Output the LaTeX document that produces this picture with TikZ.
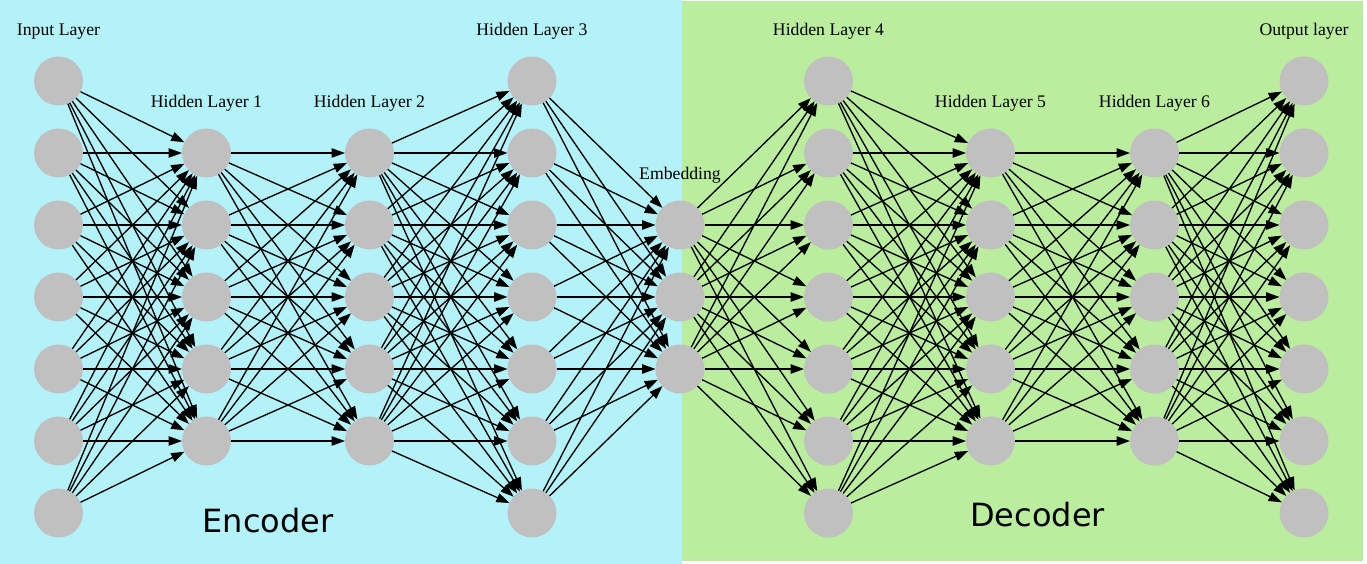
\documentclass[tikz,border=0pt]{standalone}
\usepackage{fontspec}
\setmainfont{Liberation Serif}
\newfontfamily\bigsans{DejaVu Sans}
\usetikzlibrary{arrows.meta}
\definecolor{encbg}{RGB}{179,242,249}
\definecolor{decbg}{RGB}{186,238,158}
\definecolor{neurongray}{RGB}{192,192,192}
\begin{document}
\begin{tikzpicture}[x=1pt,y=-1pt,
  neuron/.style={circle,fill=neurongray,minimum size=49pt,inner sep=0pt,outer sep=0pt},
  layerlabel/.style={anchor=base,font=\fontsize{17.7}{20}\selectfont,inner sep=0pt},
  link/.style={line width=1.33pt,-{Triangle[length=13.3pt,width=9.3pt]}},
  part/.style={anchor=base,font=\bigsans\fontsize{32}{36}\selectfont,inner sep=0pt}]
\useasboundingbox (0,0) rectangle (1367,564);
% backgrounds of the two halves
\fill[white] (0,0) rectangle (1367,564);
\fill[encbg] (0,0) rectangle (682,564);
\fill[decbg] (682,1) rectangle (1363,561);

% layers: name / x / number of units / title
\foreach \name/\x/\n/\lab in {
    in/58.5/7/Input Layer,
    ha/206.5/5/Hidden Layer 1,
    hb/369.5/5/Hidden Layer 2,
    hc/532/7/Hidden Layer 3,
    emb/680/3/Embedding,
    hd/828.5/7/Hidden Layer 4,
    he/990.5/5/Hidden Layer 5,
    hf/1154.5/5/Hidden Layer 6,
    out/1304/7/Output layer}{
  \pgfmathsetmacro{\top}{297-36*(\n-1)}
  \node[layerlabel] (\name-title) at (\x,\top-45) {\lab};
  \foreach \i in {1,...,\n}
    \node[neuron] (\name\i) at (\x,{\top+72*(\i-1)}) {};
}

% fully connected links between consecutive layers
\foreach \a/\b/\na/\nb in {
    in/ha/7/5, ha/hb/5/5, hb/hc/5/7, hc/emb/7/3,
    emb/hd/3/7, hd/he/7/5, he/hf/5/5, hf/out/5/7}{
  \foreach \i in {1,...,\na}
    \foreach \j in {1,...,\nb}
      \draw[link] (\a\i) -- (\b\j);
}

\node[part] (encoder) at (268,532.7) {Encoder};
\node[part] (decoder) at (1037.5,526.7) {Decoder};
\end{tikzpicture}
\end{document}
